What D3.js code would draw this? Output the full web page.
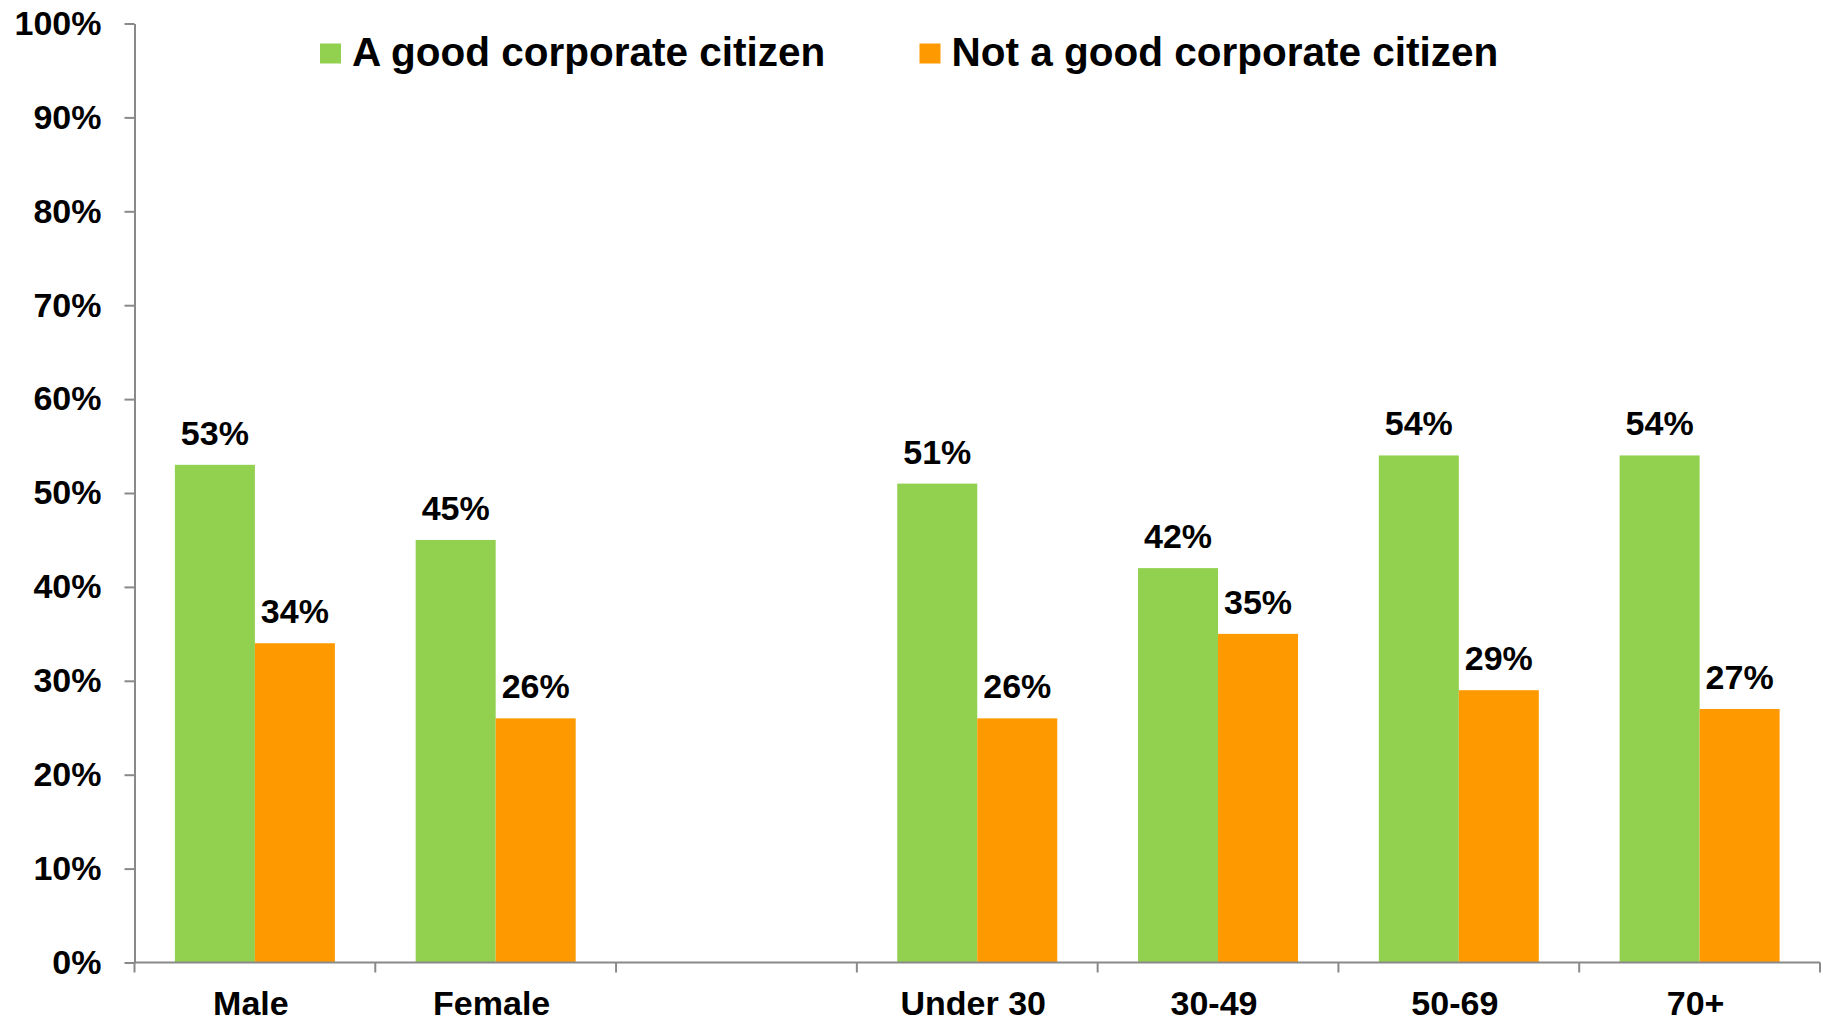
<!DOCTYPE html>
<html>
<head>
<meta charset="utf-8">
<script src="https://cdn.jsdelivr.net/npm/d3@7"></script>
<style>
  html, body { margin: 0; padding: 0; background: #fff; }
  svg { display: block; }
  text { font-family: "Liberation Sans", Arial, sans-serif; font-weight: bold; fill: #000; }
</style>
</head>
<body>
<svg id="chart" width="1823" height="1022"></svg>
<script>
// Categories along the x axis; the empty slot separates gender from age groups
const categories = ["Male", "Female", "", "Under 30", "30-49", "50-69", "70+"];
// Share of respondents (%)
const goodCitizen    = [53, 45, null, 51, 42, 54, 54];
const notGoodCitizen = [34, 26, null, 26, 35, 29, 27];
const seriesNames = ["A good corporate citizen", "Not a good corporate citizen"];
const seriesColors = ["#92D050", "#FF9900"];
const yTicks = [0, 10, 20, 30, 40, 50, 60, 70, 80, 90, 100];

const svg = d3.select("#chart");
const axisColor = "#898989";
const labelSize = 34;

const plot = { left: 134.5, right: 1820, top: 23.5, bottom: 962.5 };

const x = d3.scaleBand()
  .domain(d3.range(categories.length))
  .range([plot.left, plot.right])
  .paddingInner(0)
  .paddingOuter(0);

const y = d3.scaleLinear()
  .domain([0, 100])
  .range([plot.bottom, plot.top]);

const barW = 80;
const inner = d3.scaleBand()
  .domain([0, 1])
  .range([(x.bandwidth() - 2 * barW) / 2, (x.bandwidth() + 2 * barW) / 2]);

const series = [goodCitizen, notGoodCitizen];

// Bars and value labels
series.forEach((vals, s) => {
  const data = vals.map((v, i) => ({ i, v })).filter(d => d.v !== null);
  const g = svg.append("g").attr("class", "series-" + s);
  g.selectAll("rect")
    .data(data)
    .join("rect")
    .attr("x", d => x(d.i) + inner(s))
    .attr("width", inner.bandwidth())
    .attr("y", d => y(d.v))
    .attr("height", d => y(0) - y(d.v))
    .attr("fill", seriesColors[s]);
  g.selectAll("text")
    .data(data)
    .join("text")
    .attr("x", d => x(d.i) + inner(s) + inner.bandwidth() / 2)
    .attr("y", d => y(d.v) - 20)
    .attr("text-anchor", "middle")
    .attr("font-size", labelSize)
    .text(d => d.v + "%");
});

// Y axis
const yAxis = svg.append("g")
  .attr("transform", `translate(${plot.left},0)`)
  .call(d3.axisLeft(y)
    .tickValues(yTicks)
    .tickSize(10)
    .tickSizeOuter(0)
    .tickPadding(23)
    .tickFormat(d => d + "%"));
yAxis.selectAll("path, line").attr("stroke", axisColor).attr("stroke-width", 2);
yAxis.selectAll("text")
  .attr("font-size", labelSize)
  .attr("font-family", '"Liberation Sans", Arial, sans-serif')
  .attr("font-weight", "bold")
  .attr("fill", "#000");

// X axis: baseline, tick marks at category boundaries, labels centred in each band
const xAxis = svg.append("g").attr("class", "x-axis");
xAxis.append("line")
  .attr("x1", plot.left).attr("x2", plot.right)
  .attr("y1", y(0)).attr("y2", y(0))
  .attr("stroke", axisColor).attr("stroke-width", 2);
const bounds = d3.range(categories.length).map(i => x(i)).concat([x.range()[1]]);
xAxis.selectAll("line.tick")
  .data(bounds)
  .join("line")
  .attr("class", "tick")
  .attr("x1", d => d).attr("x2", d => d)
  .attr("y1", y(0)).attr("y2", y(0) + 10)
  .attr("stroke", axisColor).attr("stroke-width", 2);
xAxis.selectAll("text")
  .data(categories.map((c, i) => ({ c, i })).filter(d => d.c !== ""))
  .join("text")
  .attr("x", d => x(d.i) + x.bandwidth() / 2 - 4)
  .attr("y", 1015)
  .attr("text-anchor", "middle")
  .attr("font-size", labelSize)
  .text(d => d.c);

// Legend
const legendX = [320, 919.5];
const legend = svg.append("g").attr("class", "legend");
seriesNames.forEach((name, s) => {
  legend.append("rect")
    .attr("x", legendX[s]).attr("y", 43.5)
    .attr("width", 21).attr("height", 20)
    .attr("fill", seriesColors[s]);
  legend.append("text")
    .attr("x", legendX[s] + 32)
    .attr("y", 66)
    .attr("font-size", 40.5)
    .text(name);
});
</script>
</body>
</html>
